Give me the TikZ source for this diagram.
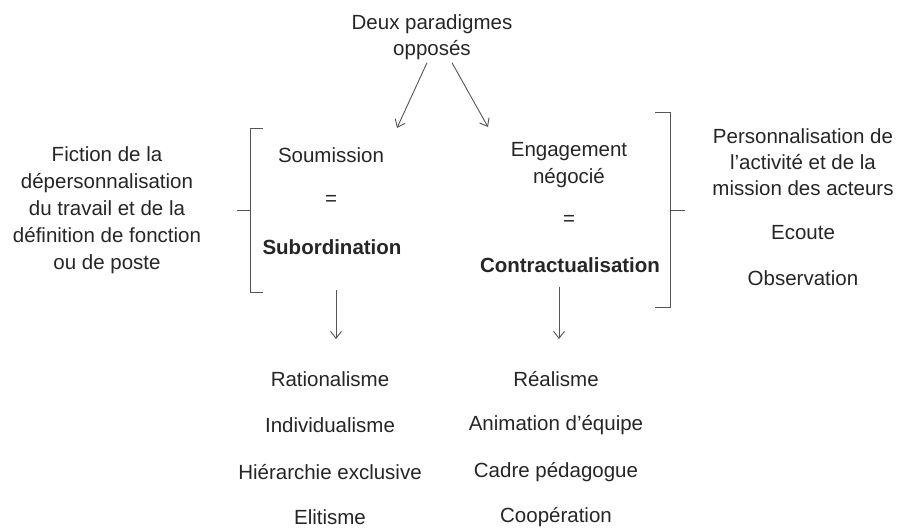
\documentclass[tikz,border=0pt]{standalone}
\usepackage{fontspec}
\setmainfont{Liberation Sans}
\usetikzlibrary{arrows.meta}
\definecolor{ink}{HTML}{262626}
\definecolor{linegray}{HTML}{555555}
\begin{document}
\begin{tikzpicture}[x=1pt,y=-1pt,
  txt/.style={text=ink,inner sep=0pt,align=center,font=\fontsize{20.5}{27}\selectfont},
  bold/.style={txt,font=\fontsize{20.5}{27}\selectfont\bfseries},
  conn/.style={draw=linegray,line width=0.9pt,-{Straight Barb[length=7pt,width=11pt,line width=0.9pt]}},
  brace/.style={draw=linegray,line width=0.9pt}]
\useasboundingbox (0,0) rectangle (906,530);
\fill[white] (0,0) rectangle (906,530);

% title
\node[txt,font=\fontsize{20.5}{26}\selectfont] (title) at (432,37) {Deux paradigmes\\opposés};

% central columns
\node[txt] (soum) at (331,155) {Soumission};
\node[txt] (eqL) at (331,200) {=};
\node[bold] (subo) at (332,247) {Subordination};

\node[txt] (enga) at (569,165) {Engagement\\négocié};
\node[txt] (eqR) at (569,220) {=};
\node[bold] (contr) at (570,265) {Contractualisation};

% side texts
\node[txt] (fiction) at (107,210) {Fiction de la\\dépersonnalisation\\du travail et de la\\définition de fonction\\ou de poste};
\node[txt,font=\fontsize{20.5}{26}\selectfont] (perso) at (803,162) {Personnalisation de\\l'activité et de la\\mission des acteurs};
\node[txt] (ecoute) at (803,233) {Ecoute};
\node[txt] (observ) at (803,278) {Observation};

% lists
\node[txt] (rat) at (330,379) {Rationalisme};
\node[txt] (ind) at (330,425) {Individualisme};
\node[txt] (hie) at (330,472) {Hiérarchie exclusive};
\node[txt] (eli) at (330,517) {Elitisme};

\node[txt] (rea) at (556,379) {Réalisme};
\node[txt] (ani) at (556,425) {Animation d'équipe};
\node[txt] (cad) at (556,472) {Cadre pédagogue};
\node[txt] (coo) at (556,517) {Coopération};

% brackets
\draw[brace] (263,128) -- (250,128) -- (250,292) -- (263,292);
\draw[brace] (250,210) -- (237,210);
\draw[brace] (655,112) -- (670,112) -- (670,307) -- (655,307);
\draw[brace] (670,210) -- (685,210);

% arrow ends
\coordinate (aL) at (397,128);
\coordinate (aR) at (488,127);
\coordinate (sL) at (336,290);
\coordinate (sR) at (559,287);
\coordinate (dL) at (336,339);
\coordinate (dR) at (559,339);

\draw[conn] ([xshift=-5pt,yshift=-3pt]title.south) -- (aL);
\draw[conn] ([xshift=20pt,yshift=-3pt]title.south) -- (aR);
\draw[conn] (sL) -- (dL);
\draw[conn] (sR) -- (dR);
\end{tikzpicture}
\end{document}
